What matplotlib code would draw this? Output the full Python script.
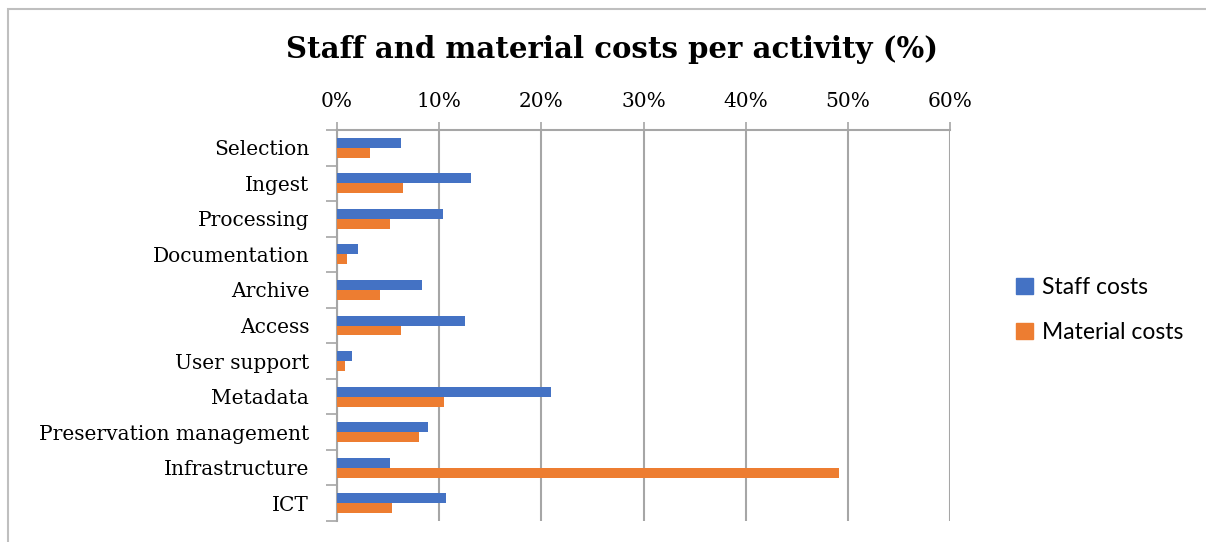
import numpy as np
import matplotlib
matplotlib.use('Agg')
import matplotlib.pyplot as plt
from matplotlib.patches import Rectangle, Patch
from matplotlib.ticker import FixedLocator, PercentFormatter

# data
activities = ['Selection', 'Ingest', 'Processing', 'Documentation', 'Archive',
              'Access', 'User support', 'Metadata', 'Preservation management',
              'Infrastructure', 'ICT']
staff_costs = [6.3, 13.1, 10.4, 2.1, 8.3, 12.5, 1.5, 20.9, 8.9, 5.2, 10.7]
material_costs = [3.2, 6.5, 5.2, 1.0, 4.2, 6.3, 0.8, 10.5, 8.0, 49.1, 5.4]
x_ticks = [0, 10, 20, 30, 40, 50, 60]

blue = '#4472C4'
orange = '#ED7D31'
grid_col = '#A6A6A6'
serif = 'DejaVu Serif'

fig = plt.figure(figsize=(12.06, 5.42), dpi=100)
W, H = 1206, 542

# chart frame (light gray border)
fig.patches.append(Rectangle((8 / W, -0.1), 1.2, 1 - 9 / H + 0.1,
                             transform=fig.transFigure, fill=False,
                             edgecolor='#BFBFBF', linewidth=1.5))

ax = fig.add_axes([337 / W, 1 - 521 / H, (950 - 337) / W, (521 - 130) / H])

y = np.arange(len(activities))
h = 0.28
ax.barh(y - h / 2, staff_costs, height=h, color=blue, label='Staff costs', zorder=3)
ax.barh(y + h / 2, material_costs, height=h, color=orange, label='Material costs', zorder=3)

ax.set_xlim(0, 60)
ax.set_ylim(len(activities) - 0.5, -0.5)

# x axis on top
ax.xaxis.tick_top()
ax.set_xticks(x_ticks)
ax.xaxis.set_major_formatter(PercentFormatter(decimals=0))
ax.tick_params(axis='x', which='major', length=6, width=1.2, color=grid_col,
               pad=8, labelsize=14.5)
for lbl in ax.get_xticklabels():
    lbl.set_fontfamily(serif)

# y axis labels, ticks between categories
ax.set_yticks(y)
ax.set_yticklabels(activities, fontfamily=serif, fontsize=14.5)
ax.yaxis.set_minor_locator(FixedLocator(np.arange(-0.5, len(activities), 1)))
ax.tick_params(axis='y', which='major', length=0, pad=20)
ax.tick_params(axis='y', which='minor', length=8, width=1.2, color=grid_col)

ax.grid(axis='x', color=grid_col, linewidth=1.5, zorder=0)
ax.set_axisbelow(True)
for side in ['right', 'bottom']:
    ax.spines[side].set_visible(False)
for side in ['left', 'top']:
    ax.spines[side].set_color(grid_col)
    ax.spines[side].set_linewidth(1.5)

fig.text(612 / W, 1 - 49 / H, 'Staff and material costs per activity (%)',
         ha='center', va='center', fontfamily=serif, fontweight='bold',
         fontsize=21)

handles = [Patch(color=blue, label='Staff costs'),
           Patch(color=orange, label='Material costs')]
fig.legend(handles=handles, loc='center left',
           bbox_to_anchor=(995 / W, 1 - 310 / H), frameon=False,
           prop={'family': 'Lato', 'size': 16.5},
           handlelength=0.75, handleheight=0.75, handletextpad=0.4,
           labelspacing=1.05)

fig.savefig('out.png', dpi=100)
